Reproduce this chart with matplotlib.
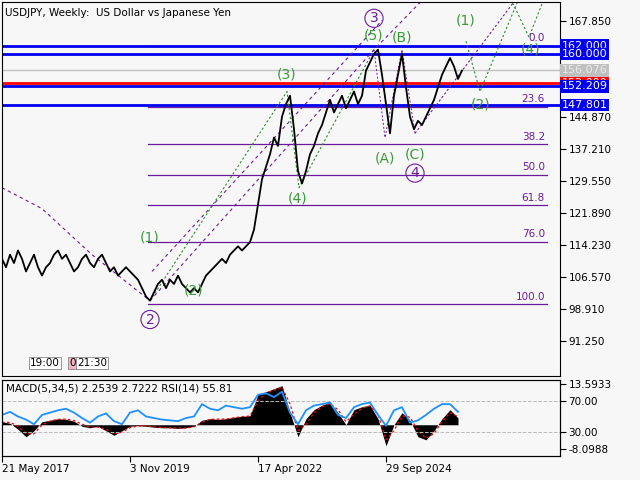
import matplotlib
matplotlib.use("Agg")
import matplotlib.pyplot as plt
import numpy as np

W, H = 640, 480
BG = "#f7f7f7"

price_x = list(range(0, 461, 4))
price = [111,109,112,110,113,111,108,110,112,109,107,
         109,110,112,113,111,112,110,108,109,111,112,110,109,111,112,
         110,108,109,107,108,109,108,107,106,104,102,
         101,103,105,106,104,106,105,107,105,104,103,104,103,
         105,107,108,109,110,111,110,112,113,114,113,114,115,
         118,124,130,133,136,140,138,145,148,150,142,132,
         129,132,136,138,141,143,146,149,146,148,150,147,149,
         151,148,150,156,158,160,161,155,148,141,150,155,160,
         152,145,142,144,143,145,147,149,152,155,157,159,157,154,156]

ind_x = list(range(0, 457, 8))
rsi = [52,56,50,46,40,52,55,58, 60,55,48,42,50,54,44,40,
       55,58,50,48,46,45,44,48, 50,66,60,58,64,62,60,62,
       78,80,75,82,55,40,58,64, 66,68,52,48,62,66,68,52,
       38,58,62,42,45,52,60,66, 66,56]
macd = [1,0.5,-1.5,-4,-2,1,1.5,2, 1.8,1.2,-0.5,-1,-0.5,-2,-3.5,-2,
        -0.5,-0.3,-0.5,-0.8,-1,-1,-1.2,-1, -0.5,1.5,2,1.8,2,2.5,2.8,3,
        10,11,12,13,4,-4,2,5, 6.5,7.5,4,0,5,6,6.5,2,
        -7,0,4,1.5,-4,-5,-2,2, 5,2.3]
signal = [0.8,0.8,-0.5,-3,-3,0,1.2,1.8, 1.9,1.4,0.2,-0.8,-0.8,-1.5,-3,-2.5,
          -1,-0.4,-0.4,-0.7,-0.9,-1,-1.1,-1.1, -0.7,0.8,1.8,1.9,1.9,2.3,2.7,2.9,
          8,10.5,11.5,12.5,7,-2,0,4, 6,7,5,1,3.5,5.5,6.3,3.5,
          -5,-2,3,2.5,-2,-4.5,-3,1, 4,2.7]

fib_levels = [0.0, 23.6, 38.2, 50.0, 61.8, 76.0, 100.0]
fib_hi, fib_lo = 162.0, 100.2
blue_levels = [162.000, 160.000, 152.209, 147.801]
red_level = 153.000
gray_level = 156.076
price_ticks = [167.850, 144.870, 137.210, 129.550, 121.890, 114.230, 106.570, 98.910, 91.250]
date_pos = [0, 128, 256, 384]
date_labels = ["21 May 2017", "3 Nov 2019", "17 Apr 2022", "29 Sep 2024"]

fig = plt.figure(figsize=(6.4, 4.8), dpi=100, facecolor=BG)

def frac(x0, y0, x1, y1):
    return [x0 / W, 1 - y1 / H, (x1 - x0) / W, (y1 - y0) / H]

ax = fig.add_axes(frac(2, 2, 560, 376), facecolor=BG)
ax.set_xlim(0, 558)
ax.set_ylim(83.0, 172.4)

for lv in fib_levels:
    p = fib_hi - (fib_hi - fib_lo) * lv / 100
    ax.plot([146, 545], [p, p], color="#6a1b9a", lw=0.9)
    ax.text(543, p + 0.6, f"{lv:.1f}", color="#6a1b9a", fontsize=7.5, ha="right", va="bottom")
for lv in blue_levels:
    ax.axhline(lv, color="#0000ee", lw=2)
ax.axhline(gray_level, color="#c0c0c0", lw=1)
ax.axhline(red_level, color="#ff0000", lw=2)

pc = "#6a1b9a"
ax.plot([0, 40, 90, 148], [128, 123, 112, 101], ls=(0, (3, 3)), color=pc, lw=0.8)
ax.plot([148, 372, 470], [101, 161, 185], ls=(0, (3, 3)), color=pc, lw=0.8)
ax.plot([150, 380], [108, 168], ls=(0, (3, 3)), color=pc, lw=0.8)
ax.plot([413, 520], [141, 175], ls=(0, (2, 2)), color=pc, lw=0.8)
gc = "#2e8b2e"
ax.plot([148, 285, 297, 372], [101, 151, 128, 161], ls=(0, (2, 2)), color=gc, lw=0.8)
ax.plot([372, 383, 400, 413], [161, 140, 161, 141], ls=(0, (2, 2)), color=pc, lw=0.7)
ax.plot([464, 478, 520], [163, 151, 175], ls=(0, (2, 2)), color=gc, lw=0.8)
ax.plot([505, 527, 545], [175, 164, 175], ls=(0, (2, 2)), color=gc, lw=0.8)

ax.plot(price_x, price, color="black", lw=1.3)

gl = [("(1)", 148, 116), ("(2)", 192, 103.5), ("(3)", 285, 155), ("(4)", 296, 125.5),
      ("(5)", 372, 164.5), ("(A)", 383, 135), ("(B)", 400, 164), ("(C)", 413, 136),
      ("(1)", 464, 168), ("(2)", 479, 148), ("(4)", 529, 161)]
for t, x, y in gl:
    ax.text(x, y, t, color="#3a9a3a", fontsize=10, ha="center", va="center")
for t, x, y in [("2", 148, 96.5), ("3", 372, 168.5), ("4", 413, 131.5)]:
    ax.text(x, y, t, color="#6a1b9a", fontsize=10, ha="center", va="center",
            bbox=dict(boxstyle="circle,pad=0.15", fc="none", ec="#6a1b9a", lw=0.8))

ax.text(3, 169.8, "USDJPY, Weekly:  US Dollar vs Japanese Yen", fontsize=7.5, va="center")
for t, x, fc in [("19:00", 28, "white"), ("0", 67, "#f4b6c2"), ("21:30", 75, "white")]:
    ax.text(x, 86.2, t, fontsize=7.5, va="center", bbox=dict(boxstyle="square,pad=0.1", fc=fc, ec="#888", lw=0.6))

ax.set_xticks([])
ax.yaxis.tick_right()
ax.set_yticks(price_ticks)
ax.set_yticklabels([f"{t:.3f}" for t in price_ticks], fontsize=7.5)
ax.tick_params(axis="y", length=4, pad=2)
for lv, fc, tc in [(gray_level, "#c0c0c0", "#e8e8e8"), (red_level, "#ff0000", "white")] + \
        [(b, "#0000ee", "white") for b in blue_levels]:
    ax.text(1.003, (lv - 83.0) / (172.4 - 83.0), f"{lv:.3f}", transform=ax.transAxes, fontsize=8,
            color=tc, va="center", ha="left", bbox=dict(boxstyle="square,pad=0.12", fc=fc, ec="none"))
for s in ax.spines.values():
    s.set_color("black"); s.set_linewidth(0.8)

ax2 = fig.add_axes(frac(2, 380, 560, 456), facecolor=BG)
ax2.set_xlim(0, 558)
ax2.set_ylim(-10.4, 14.9)
ax3 = ax2.twinx()
ax3.set_ylim(-1, 97.1)
ax2.fill_between(ind_x, 0, macd, color="black", lw=0)
ax2.plot(ind_x, signal, color="red", ls=(0, (2, 2)), lw=0.9)
ax3.axhline(70, color="#bbbbbb", ls="--", lw=0.7)
ax3.axhline(30, color="#bbbbbb", ls="--", lw=0.7)
ax3.plot(ind_x, rsi, color="#1e90ff", lw=1.3)
ax3.set_yticks([70, 30])
ax3.set_yticklabels(["70.00", "30.00"], fontsize=7.5)
ax3.tick_params(axis="y", length=4, pad=2)
ax2.set_yticks([13.5933, -8.0988])
ax2.set_yticklabels(["13.5933", "-8.0988"], fontsize=7.5)
ax2.yaxis.set_ticks_position("right")
ax2.yaxis.set_label_position("right")
ax2.tick_params(axis="y", which="both", left=False, labelleft=False, right=True, labelright=True, length=4, pad=2)
ax2.set_xticks(date_pos)
ax2.set_xticklabels(date_labels, fontsize=7.5, ha="left")
ax2.tick_params(axis="x", length=4, pad=2, direction="out")
ax2.text(4, 12.0, "MACD(5,34,5) 2.2539 2.7222 RSI(14) 55.81", fontsize=7.5, va="center")

fig.savefig("out.png", dpi=100, facecolor=BG)
